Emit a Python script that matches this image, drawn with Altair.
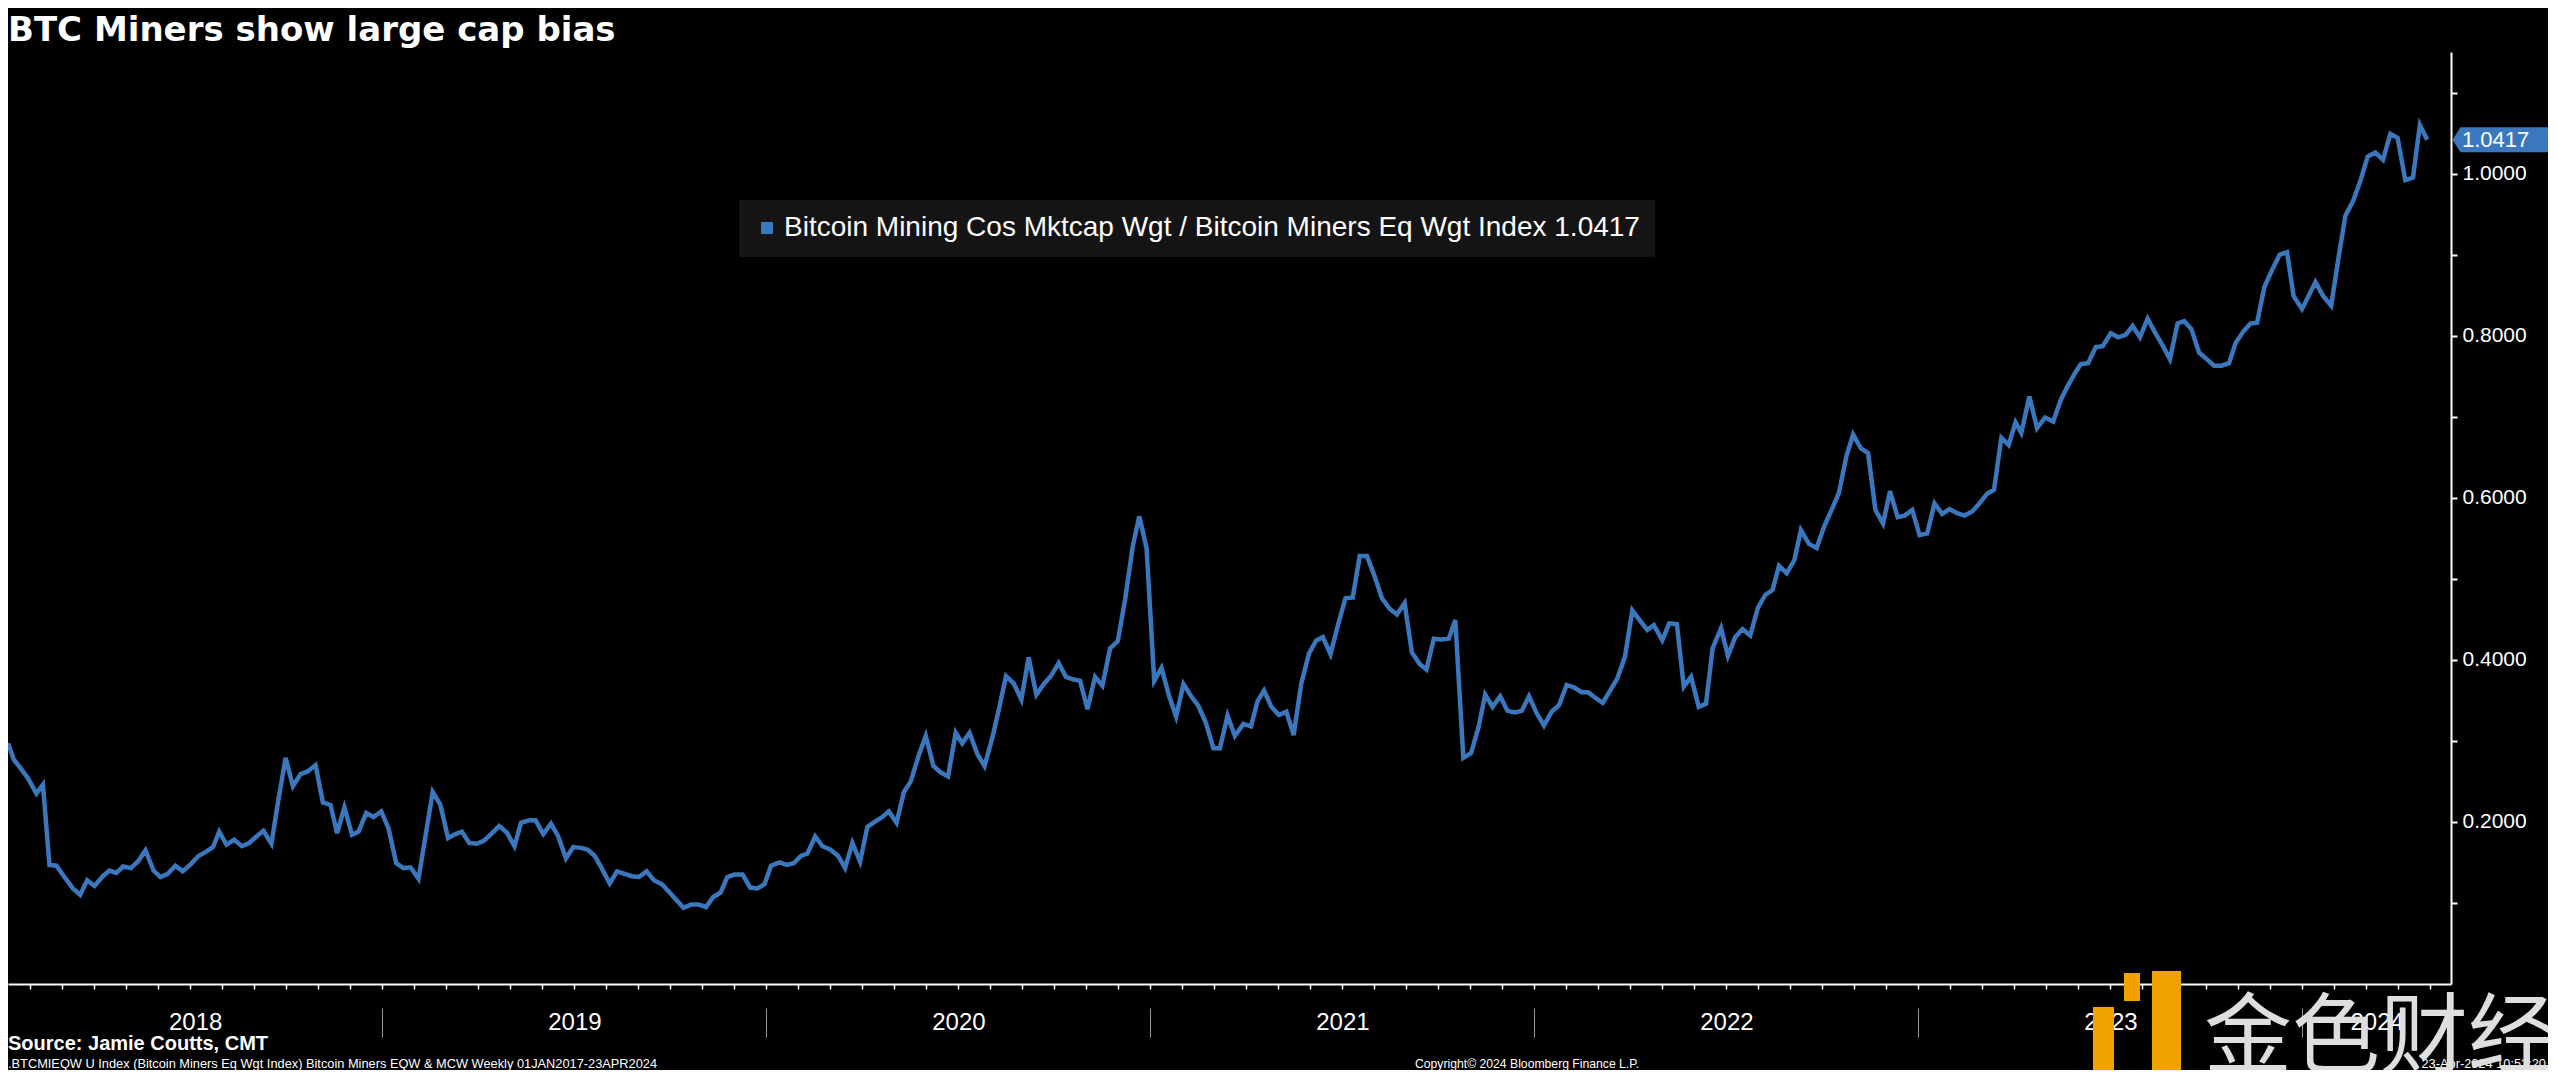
import altair as alt
import pandas as pd

TITLE = "BTC Miners show large cap bias"
SERIES = "Bitcoin Mining Cos Mktcap Wgt / Bitcoin Miners Eq Wgt Index 1.0417"
SOURCE = "Source: Jamie Coutts, CMT"
FOOT_LEFT = ".BTCMIEQW U Index (Bitcoin Miners Eq Wgt Index) Bitcoin Miners EQW & MCW  Weekly 01JAN2017-23APR2024"
FOOT_MID = "Copyright\u00a9 2024 Bloomberg Finance L.P."
FOOT_RIGHT = "23-Apr-2024 10:52:20"
WATERMARK = "金色财经"

# Line vertices: decimal-year position and ratio value
t_2018 = [2018.025, 2018.040, 2018.055, 2018.077, 2018.099, 2018.116, 2018.133, 2018.151, 2018.172, 2018.194,
          2018.213, 2018.231, 2018.250, 2018.272, 2018.289, 2018.307, 2018.325, 2018.345, 2018.365, 2018.383,
          2018.404, 2018.422, 2018.441, 2018.461, 2018.480, 2018.501, 2018.521, 2018.540, 2018.559, 2018.575,
          2018.594, 2018.614, 2018.634, 2018.653, 2018.672, 2018.690, 2018.711, 2018.729, 2018.748, 2018.767,
          2018.787, 2018.804, 2018.826, 2018.845, 2018.865, 2018.882, 2018.901, 2018.921, 2018.938, 2018.958,
          2018.977, 2018.997]
v_2018 = [0.297, 0.277, 0.268, 0.254, 0.235, 0.246, 0.147, 0.146, 0.132, 0.118,
          0.110, 0.128, 0.121, 0.133, 0.140, 0.137, 0.145, 0.143, 0.152, 0.165,
          0.140, 0.132, 0.136, 0.146, 0.139, 0.148, 0.158, 0.163, 0.169, 0.188,
          0.172, 0.178, 0.170, 0.174, 0.182, 0.189, 0.173, 0.227, 0.279, 0.244,
          0.259, 0.262, 0.270, 0.224, 0.221, 0.186, 0.218, 0.184, 0.188, 0.211,
          0.206, 0.213]

t_2019 = [2019.016, 2019.036, 2019.055, 2019.073, 2019.094, 2019.110, 2019.131, 2019.151, 2019.171, 2019.190,
          2019.207, 2019.226, 2019.246, 2019.265, 2019.283, 2019.304, 2019.324, 2019.344, 2019.361, 2019.382,
          2019.399, 2019.419, 2019.439, 2019.458, 2019.478, 2019.497, 2019.517, 2019.534, 2019.553, 2019.572,
          2019.592, 2019.611, 2019.631, 2019.650, 2019.668, 2019.688, 2019.707, 2019.728, 2019.748, 2019.765,
          2019.784, 2019.804, 2019.823, 2019.843, 2019.861, 2019.881, 2019.898, 2019.917, 2019.938, 2019.958,
          2019.976, 2019.995]
v_2019 = [0.192, 0.149, 0.143, 0.144, 0.130, 0.176, 0.237, 0.221, 0.180, 0.185,
          0.188, 0.174, 0.173, 0.177, 0.185, 0.195, 0.187, 0.170, 0.199, 0.202,
          0.202, 0.185, 0.198, 0.182, 0.155, 0.169, 0.168, 0.166, 0.158, 0.142,
          0.124, 0.139, 0.136, 0.133, 0.132, 0.139, 0.128, 0.123, 0.113, 0.104,
          0.094, 0.098, 0.098, 0.095, 0.107, 0.113, 0.132, 0.135, 0.135, 0.119,
          0.118, 0.123]

t_2020 = [2020.012, 2020.034, 2020.053, 2020.071, 2020.090, 2020.107, 2020.127, 2020.146, 2020.166, 2020.187,
          2020.205, 2020.224, 2020.244, 2020.263, 2020.282, 2020.302, 2020.319, 2020.339, 2020.358, 2020.376,
          2020.396, 2020.415, 2020.435, 2020.454, 2020.473, 2020.493, 2020.510, 2020.529, 2020.549, 2020.568,
          2020.588, 2020.605, 2020.624, 2020.644, 2020.664, 2020.683, 2020.703, 2020.722, 2020.741, 2020.761,
          2020.780, 2020.798, 2020.817, 2020.836, 2020.856, 2020.875, 2020.895, 2020.915, 2020.934, 2020.954,
          2020.971, 2020.990]
v_2020 = [0.146, 0.150, 0.147, 0.149, 0.158, 0.161, 0.182, 0.170, 0.166, 0.158,
          0.143, 0.174, 0.151, 0.194, 0.200, 0.206, 0.213, 0.199, 0.237, 0.250,
          0.281, 0.306, 0.269, 0.261, 0.256, 0.310, 0.297, 0.310, 0.284, 0.269,
          0.303, 0.338, 0.380, 0.371, 0.351, 0.403, 0.357, 0.370, 0.380, 0.396,
          0.379, 0.376, 0.374, 0.339, 0.379, 0.368, 0.414, 0.423, 0.474, 0.540,
          0.577, 0.538]

t_2021 = [2021.010, 2021.029, 2021.049, 2021.067, 2021.086, 2021.106, 2021.125, 2021.144, 2021.164, 2021.181,
          2021.201, 2021.220, 2021.242, 2021.262, 2021.279, 2021.296, 2021.315, 2021.335, 2021.354, 2021.373,
          2021.393, 2021.413, 2021.432, 2021.449, 2021.469, 2021.488, 2021.508, 2021.527, 2021.545, 2021.564,
          2021.584, 2021.603, 2021.623, 2021.642, 2021.662, 2021.681, 2021.701, 2021.719, 2021.738, 2021.757,
          2021.777, 2021.794, 2021.815, 2021.835, 2021.854, 2021.872, 2021.891, 2021.911, 2021.930, 2021.949,
          2021.967, 2021.986]
v_2021 = [0.374, 0.390, 0.355, 0.330, 0.370, 0.355, 0.343, 0.323, 0.291, 0.291,
          0.331, 0.306, 0.321, 0.318, 0.349, 0.362, 0.342, 0.332, 0.336, 0.307,
          0.371, 0.408, 0.424, 0.428, 0.407, 0.442, 0.476, 0.477, 0.528, 0.528,
          0.503, 0.476, 0.463, 0.456, 0.470, 0.409, 0.395, 0.388, 0.426, 0.425,
          0.426, 0.449, 0.279, 0.285, 0.316, 0.357, 0.342, 0.355, 0.337, 0.335,
          0.337, 0.355]

t_2022 = [2022.006, 2022.025, 2022.045, 2022.064, 2022.084, 2022.103, 2022.123, 2022.140, 2022.159, 2022.178,
          2022.196, 2022.216, 2022.236, 2022.255, 2022.274, 2022.294, 2022.311, 2022.333, 2022.351, 2022.371,
          2022.389, 2022.408, 2022.428, 2022.447, 2022.464, 2022.486, 2022.504, 2022.523, 2022.542, 2022.562,
          2022.582, 2022.601, 2022.620, 2022.637, 2022.657, 2022.677, 2022.694, 2022.715, 2022.735, 2022.755,
          2022.774, 2022.793, 2022.813, 2022.830, 2022.850, 2022.869, 2022.888, 2022.908, 2022.926, 2022.946,
          2022.964, 2022.984]
v_2022 = [0.334, 0.319, 0.336, 0.344, 0.369, 0.366, 0.360, 0.360, 0.353, 0.347,
          0.361, 0.377, 0.404, 0.461, 0.449, 0.437, 0.443, 0.424, 0.445, 0.444,
          0.367, 0.379, 0.342, 0.346, 0.414, 0.439, 0.405, 0.428, 0.438, 0.430,
          0.464, 0.480, 0.486, 0.516, 0.507, 0.523, 0.560, 0.543, 0.538, 0.565,
          0.585, 0.606, 0.652, 0.678, 0.661, 0.655, 0.585, 0.568, 0.608, 0.576,
          0.578, 0.585]

t_2023 = [2023.003, 2023.023, 2023.042, 2023.062, 2023.081, 2023.101, 2023.120, 2023.140, 2023.159, 2023.179,
          2023.197, 2023.216, 2023.235, 2023.253, 2023.268, 2023.289, 2023.309, 2023.330, 2023.351, 2023.371,
          2023.389, 2023.408, 2023.423, 2023.442, 2023.462, 2023.480, 2023.501, 2023.520, 2023.540, 2023.558,
          2023.577, 2023.597, 2023.616, 2023.636, 2023.655, 2023.675, 2023.692, 2023.711, 2023.731, 2023.751,
          2023.770, 2023.789, 2023.809, 2023.826, 2023.846, 2023.865, 2023.882, 2023.901, 2023.921, 2023.941,
          2023.960, 2023.977, 2023.999]
v_2023 = [0.554, 0.556, 0.593, 0.580, 0.586, 0.581, 0.578, 0.583, 0.593, 0.605,
          0.610, 0.674, 0.665, 0.693, 0.680, 0.725, 0.686, 0.699, 0.694, 0.721,
          0.738, 0.754, 0.765, 0.766, 0.786, 0.787, 0.803, 0.798, 0.801, 0.812,
          0.798, 0.821, 0.804, 0.788, 0.771, 0.815, 0.818, 0.808, 0.779, 0.771,
          0.763, 0.763, 0.766, 0.791, 0.805, 0.815, 0.816, 0.860, 0.881, 0.900,
          0.903, 0.849, 0.833]

t_2024 = [2024.016, 2024.034, 2024.054, 2024.075, 2024.094, 2024.112, 2024.132, 2024.151, 2024.170, 2024.190,
          2024.210, 2024.229, 2024.248, 2024.268, 2024.288, 2024.306, 2024.325]
v_2024 = [0.849, 0.866, 0.849, 0.837, 0.896, 0.948, 0.966, 0.991, 1.021, 1.026,
          1.017, 1.049, 1.044, 0.992, 0.995, 1.060, 1.0417]

t_all = t_2018 + t_2019 + t_2020 + t_2021 + t_2022 + t_2023 + t_2024
v_all = v_2018 + v_2019 + v_2020 + v_2021 + v_2022 + v_2023 + v_2024
assert len(t_all) == len(v_all)

df = pd.DataFrame({"t": t_all, "v": v_all, "series": SERIES})

BLUE = "#3a77bd"
ORANGE = "#f2a200"
W, H = 2443, 932
X0, X1 = 2018.025, 2024.387
Y0, Y1 = 0.0, 1.15
FONT = "Liberation Sans"

month_ticks = [round(y + m / 12, 4) for y in range(2018, 2025) for m in range(12)
               if X0 <= y + m / 12 <= X1]
year_bounds = [2019, 2020, 2021, 2022, 2023, 2024]
label_pos = [round((X0 + 2019) / 2, 4), 2019.5, 2020.5, 2021.5, 2022.5, 2023.5, round((2024 + X1) / 2, 4)]
y_ticks = [round(k / 10, 1) for k in range(1, 12)]

xscale = alt.Scale(domain=[X0, X1], nice=False, zero=False)
yscale = alt.Scale(domain=[Y0, Y1], nice=False, zero=False)

y_axis = alt.Axis(
    orient="right", values=y_ticks,
    labelExpr="(round(datum.value*10) % 2 == 0) ? format(datum.value, '.4f') : ''",
    tickSize=6, tickWidth=2, tickColor="white", domainColor="white", domainWidth=2,
    labelColor="white", labelFont=FONT, labelFontSize=21, labelPadding=5,
    grid=False, title=None)

line = alt.Chart(df).mark_line(strokeWidth=4.5, clip=True).encode(
    x=alt.X("t:Q", scale=xscale, axis=alt.Axis(
        orient="bottom", values=month_ticks, labels=False, tickSize=5, tickWidth=1.5,
        tickColor="white", domainColor="white", domainWidth=2, grid=False, title=None)),
    y=alt.Y("v:Q", scale=yscale, axis=y_axis),
    color=alt.Color("series:N", scale=alt.Scale(range=[BLUE]), legend=alt.Legend(
        orient="none", legendX=731, legendY=148, title=None, fillColor="#141414",
        padding=14, symbolType="square", symbolSize=144, symbolFillColor=BLUE,
        symbolStrokeColor=BLUE, symbolStrokeWidth=0, labelColor="white", labelFont=FONT,
        labelFontSize=28, labelLimit=2000, labelOffset=3, strokeColor="#141414")),
)

sep = alt.Chart(pd.DataFrame({"t": year_bounds})).mark_point(opacity=0).encode(
    x=alt.X("t:Q", scale=xscale, axis=alt.Axis(
        orient="bottom", values=year_bounds, labels=False, tickSize=29, tickWidth=1,
        tickColor="#9a9a9a", domain=False, offset=24, grid=False, title=None)),
)

lab = alt.Chart(pd.DataFrame({"t": label_pos})).mark_point(opacity=0).encode(
    x=alt.X("t:Q", scale=xscale, axis=alt.Axis(
        orient="bottom", values=label_pos, labelExpr="'' + floor(datum.value)",
        ticks=False, domain=False, offset=24, labelPadding=2, labelColor="white",
        labelFont=FONT, labelFontSize=24, labelFlush=False, labelOverlap=False,
        grid=False, title=None)),
)

last = pd.DataFrame({"v": [v_2024[-1]], "lab": [f"{v_2024[-1]:.4f}"]})
TAG_PATH = "M -1 0 L -0.845 -0.243 L 1 -0.243 L 1 0.243 L -0.845 0.243 Z"
tag_bg = alt.Chart(last).mark_point(shape=TAG_PATH, size=10609, filled=True, color=BLUE,
                                    opacity=1, strokeWidth=0).encode(
    x=alt.value(W + 53), y=alt.Y("v:Q", scale=yscale, axis=y_axis))
tag_txt = alt.Chart(last).mark_text(align="left", baseline="middle", color="white",
                                    font=FONT, fontSize=22).encode(
    x=alt.value(W + 11), y=alt.Y("v:Q", scale=yscale, axis=y_axis), text="lab:N")


def note(txt, x, y, size, align="left", weight="normal", color="white", font=FONT):
    return alt.Chart(pd.DataFrame({"s": [txt]})).mark_text(
        align=align, baseline="alphabetic", fontSize=size, fontWeight=weight,
        color=color, font=font).encode(x=alt.value(x), y=alt.value(y), text="s:N")


src = note(SOURCE, 0, 998, 20, weight="bold")
f_left = note(FOOT_LEFT, 0, 1016, 12.8)
f_mid = note(FOOT_MID, 1407, 1016, 12.2)
f_right = note(FOOT_RIGHT, 2538, 1016, 12.8, align="right")


def block(x, x2, y, y2):
    return alt.Chart(pd.DataFrame({"k": [0]})).mark_rect(color=ORANGE).encode(
        x=alt.value(x), x2=alt.value(x2), y=alt.value(y), y2=alt.value(y2))


logo = [block(2144, 2173, 919, 1026), block(2085, 2106, 955, 1026), block(2116, 2132, 921, 949)]
wm = note(WATERMARK, 2196, 1014, 88, color="#dedede", font="Noto Sans CJK SC")

chart = alt.layer(line, sep, lab, tag_bg, tag_txt, src, f_left, f_mid, f_right, *logo, wm).resolve_axis(
    x="independent"
).properties(
    width=W, height=H,
    title=alt.TitleParams(TITLE, anchor="start", font="DejaVu Sans", fontSize=34,
                          fontWeight="bold", color="white", offset=4, frame="group"),
    background="black",
    padding={"left": 0, "top": 44, "right": 97, "bottom": 86},
    autosize=alt.AutoSizeParams(type="none"),
).configure_view(stroke=None)

chart.save("out.html", embed_options={"renderer": "svg", "actions": False})
